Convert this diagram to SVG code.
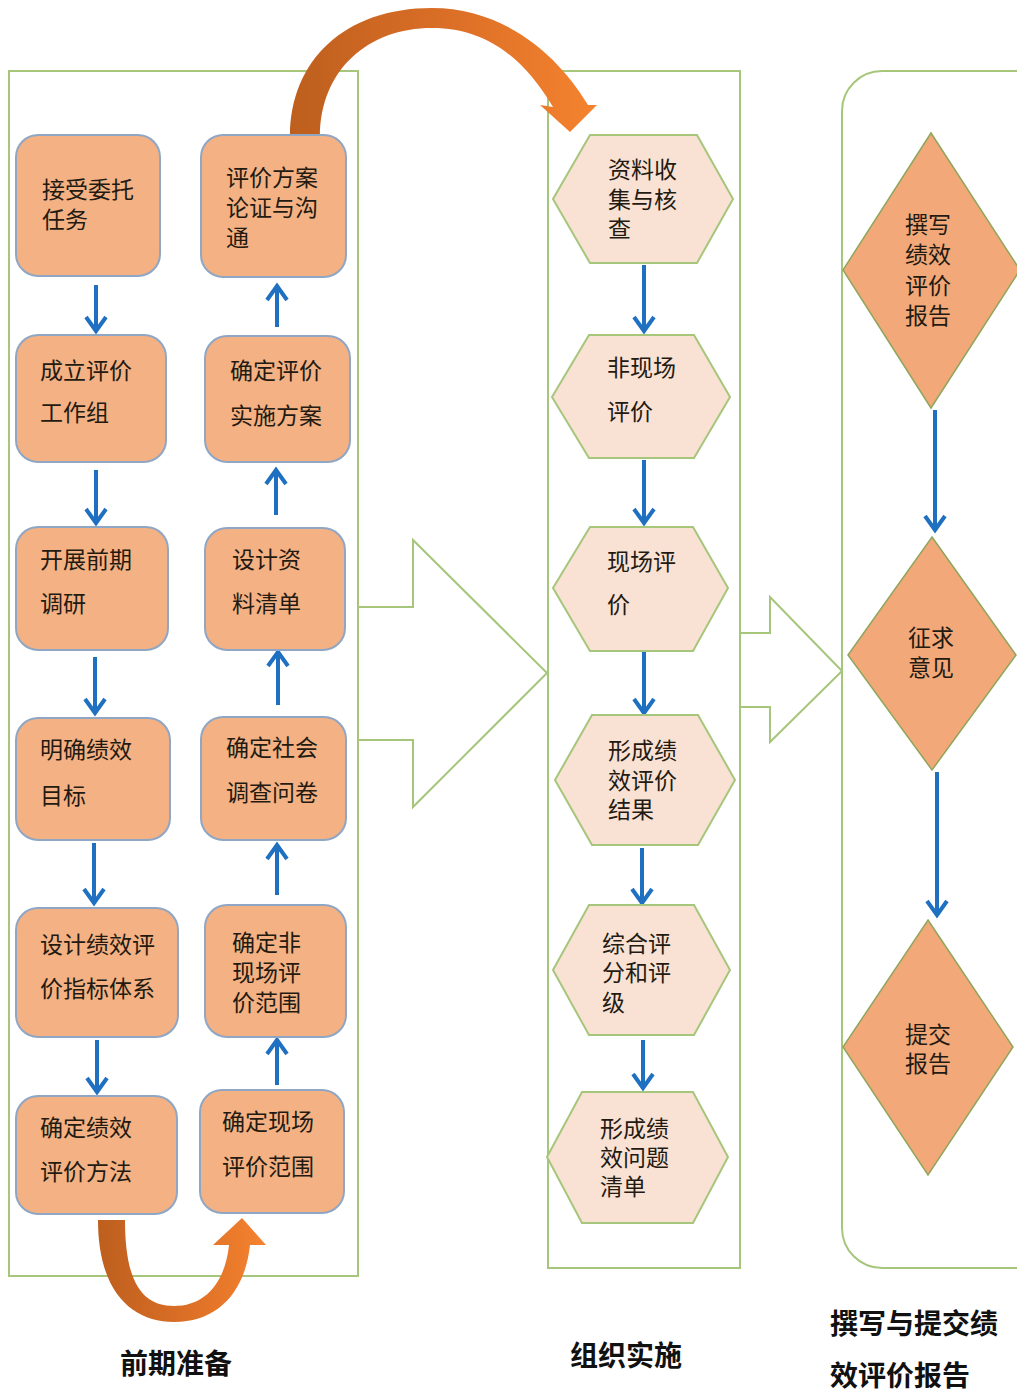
<svg xmlns="http://www.w3.org/2000/svg" width="1017" height="1393" viewBox="0 0 1017 1393">
<style>
.cont{fill:none;stroke:#A6C67C;stroke-width:2}
.box{fill:#F4B183;stroke:#8FA6C4;stroke-width:2}
.hex{fill:#F9E2D4;stroke:#A6C67C;stroke-width:2}
.dia{fill:#F2A878;stroke:#8FA65C;stroke-width:1.5}
.blk{fill:#fff;stroke:#A6C67C;stroke-width:2}
.t{font-family:"Liberation Sans","Noto Sans CJK SC",sans-serif;font-size:23px;fill:#231a12}
.lab{font-family:"Liberation Sans","Noto Sans CJK SC",sans-serif;font-size:28px;font-weight:bold;fill:#111}
.fl{fill:none;stroke:#1F70C1;stroke-width:4;marker-end:url(#ah)}
</style>
<defs>
<marker id="ah" viewBox="0 0 20 24" refX="16" refY="12" markerWidth="20" markerHeight="24" markerUnits="userSpaceOnUse" orient="auto">
<path d="M2,2 L16,12 L2,22" fill="none" stroke="#1F70C1" stroke-width="4"/>
</marker>
<linearGradient id="og1" x1="0" y1="0" x2="1" y2="0">
<stop offset="0" stop-color="#BD5F1E"/><stop offset="0.5" stop-color="#DA6E26"/><stop offset="1" stop-color="#F5832F"/>
</linearGradient>
</defs>

<g id="containers">
<rect class="cont" x="9" y="71" width="349" height="1205"/>
<rect class="cont" x="548" y="71" width="192" height="1197"/>
<rect class="cont" x="842" y="71" width="215" height="1197" rx="40"/>
</g>

<g id="block-arrows">
<polygon class="blk" points="358,607 413,607 413,540 547,673 413,807 413,740 358,740"/>
<polygon class="blk" points="740,633 770,633 770,597 842,671 770,742 770,707 740,707"/>
</g>

<g id="curved-arrows">
<path d="M290,137 C290,60 345,8 432,8 C500,8 555,50 588,105 L597,105 L570,132 L540,105 L553,107 C525,60 488,28 432,28 C368,28 320,70 320,137 Z" fill="url(#og1)"/>
<path d="M98,1220 C98,1292 132,1322 174,1322 C218,1322 245,1292 250,1245 L266,1245 L242,1218 L213,1245 L229,1245 C225,1283 205,1306 174,1306 C142,1306 125,1282 125,1220 Z" fill="url(#og1)"/>
</g>

<g id="connectors">
<path class="fl" d="M96,285 V331"/>
<path class="fl" d="M96,470 V523"/>
<path class="fl" d="M95,657 V713"/>
<path class="fl" d="M94,843 V903"/>
<path class="fl" d="M97,1040 V1092"/>
<path class="fl" d="M277,327 V286"/>
<path class="fl" d="M276,515 V470"/>
<path class="fl" d="M278,705 V652"/>
<path class="fl" d="M277,895 V845"/>
<path class="fl" d="M277,1085 V1040"/>
<path class="fl" d="M644,265 V331"/>
<path class="fl" d="M644,460 V523"/>
<path class="fl" d="M644,652 V713"/>
<path class="fl" d="M642,848 V903"/>
<path class="fl" d="M643,1040 V1088"/>
<path class="fl" d="M935,410 V530"/>
<path class="fl" d="M937,772 V915"/>
</g>

<g id="n-L1"><rect class="box" x="16" y="135" width="144" height="141" rx="22"/><text class="t" x="42" y="198">接受委托</text><text class="t" x="42" y="228">任务</text></g>
<g id="n-L2"><rect class="box" x="16" y="335" width="150" height="127" rx="22"/><text class="t" x="40" y="379">成立评价</text><text class="t" x="40" y="421">工作组</text></g>
<g id="n-L3"><rect class="box" x="16" y="527" width="152" height="123" rx="22"/><text class="t" x="40" y="568">开展前期</text><text class="t" x="40" y="612">调研</text></g>
<g id="n-L4"><rect class="box" x="16" y="718" width="154" height="122" rx="22"/><text class="t" x="40" y="758">明确绩效</text><text class="t" x="40" y="804">目标</text></g>
<g id="n-L5"><rect class="box" x="16" y="908" width="162" height="129" rx="22"/><text class="t" x="40" y="953">设计绩效评</text><text class="t" x="40" y="997">价指标体系</text></g>
<g id="n-L6"><rect class="box" x="16" y="1096" width="161" height="118" rx="22"/><text class="t" x="40" y="1136">确定绩效</text><text class="t" x="40" y="1180">评价方法</text></g>

<g id="n-R1"><rect class="box" x="201" y="135" width="145" height="142" rx="22"/><text class="t" x="226" y="186">评价方案</text><text class="t" x="226" y="216">论证与沟</text><text class="t" x="226" y="246">通</text></g>
<g id="n-R2"><rect class="box" x="205" y="336" width="145" height="126" rx="22"/><text class="t" x="230" y="379">确定评价</text><text class="t" x="230" y="424">实施方案</text></g>
<g id="n-R3"><rect class="box" x="205" y="528" width="140" height="122" rx="22"/><text class="t" x="232" y="568">设计资</text><text class="t" x="232" y="612">料清单</text></g>
<g id="n-R4"><rect class="box" x="201" y="717" width="145" height="123" rx="22"/><text class="t" x="226" y="756">确定社会</text><text class="t" x="226" y="801">调查问卷</text></g>
<g id="n-R5"><rect class="box" x="205" y="905" width="141" height="132" rx="22"/><text class="t" x="232" y="951">确定非</text><text class="t" x="232" y="981">现场评</text><text class="t" x="232" y="1011">价范围</text></g>
<g id="n-R6"><rect class="box" x="200" y="1090" width="144" height="123" rx="22"/><text class="t" x="222" y="1130">确定现场</text><text class="t" x="222" y="1175">评价范围</text></g>

<g id="n-H1"><polygon class="hex" points="553,199 590,135 697,135 733,199 697,263 590,263"/><text class="t" x="608" y="178">资料收</text><text class="t" x="608" y="208">集与核</text><text class="t" x="608" y="237">查</text></g>
<g id="n-H2"><polygon class="hex" points="552,397 589,335 694,335 730,397 694,458 589,458"/><text class="t" x="607" y="376">非现场</text><text class="t" x="607" y="420">评价</text></g>
<g id="n-H3"><polygon class="hex" points="553,588 590,527 693,527 728,588 693,651 590,651"/><text class="t" x="607" y="570">现场评</text><text class="t" x="607" y="613">价</text></g>
<g id="n-H4"><polygon class="hex" points="555,780 592,715 698,715 735,780 698,845 592,845"/><text class="t" x="608" y="759">形成绩</text><text class="t" x="608" y="789">效评价</text><text class="t" x="608" y="818">结果</text></g>
<g id="n-H5"><polygon class="hex" points="553,970 589,905 694,905 730,970 694,1035 589,1035"/><text class="t" x="602" y="952">综合评</text><text class="t" x="602" y="981">分和评</text><text class="t" x="602" y="1011">级</text></g>
<g id="n-H6"><polygon class="hex" points="547,1157 582,1092 693,1092 728,1157 693,1223 582,1223"/><text class="t" x="600" y="1137">形成绩</text><text class="t" x="600" y="1166">效问题</text><text class="t" x="600" y="1195">清单</text></g>

<g id="n-D1"><polygon class="dia" points="931,133 1020,270 931,408 843,270"/><text class="t" x="905" y="233">撰写</text><text class="t" x="905" y="263">绩效</text><text class="t" x="905" y="294">评价</text><text class="t" x="905" y="324">报告</text></g>
<g id="n-D2"><polygon class="dia" points="932,537 1016,655 932,770 848,655"/><text class="t" x="908" y="646">征求</text><text class="t" x="908" y="676">意见</text></g>
<g id="n-D3"><polygon class="dia" points="928,920 1013,1047 928,1175 843,1047"/><text class="t" x="905" y="1043">提交</text><text class="t" x="905" y="1072">报告</text></g>

<g id="labels">
<text class="lab" x="120" y="1374">前期准备</text>
<text class="lab" x="570" y="1366">组织实施</text>
<text class="lab" x="830" y="1334">撰写与提交绩</text>
<text class="lab" x="830" y="1386">效评价报告</text>
</g>
</svg>
